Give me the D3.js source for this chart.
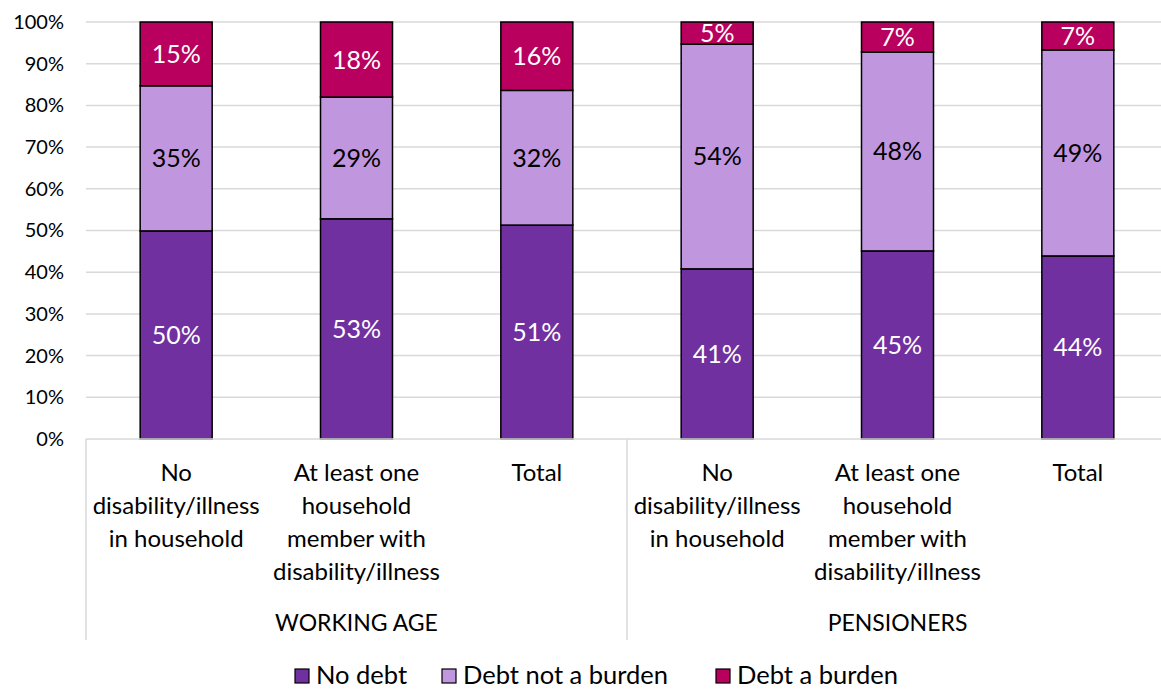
<!DOCTYPE html>
<html>
<head>
<meta charset="utf-8">
<script src="https://cdn.jsdelivr.net/npm/d3@7/dist/d3.min.js"></script>
<style>
  html, body { margin: 0; padding: 0; background: #fff; }
  svg { display: block; font-family: Lato, "Open Sans", sans-serif; }
</style>
</head>
<body>
<svg id="chart" width="1161" height="690"></svg>
<script>
// Household debt burden by disability status, split by age group
const groups = ["WORKING AGE", "PENSIONERS"];
const categories = [
  ["No", "disability/illness", "in household"],
  ["At least one", "household", "member with", "disability/illness"],
  ["Total"],
  ["No", "disability/illness", "in household"],
  ["At least one", "household", "member with", "disability/illness"],
  ["Total"]
];
const seriesNames = ["No debt", "Debt not a burden", "Debt a burden"];
const noDebt          = [0.499, 0.528, 0.513, 0.408, 0.451, 0.439];
const debtNotABurden  = [0.348, 0.292, 0.323, 0.539, 0.477, 0.494];
const debtABurden     = [0.153, 0.180, 0.164, 0.053, 0.072, 0.067];
const yTicks = [0, 0.1, 0.2, 0.3, 0.4, 0.5, 0.6, 0.7, 0.8, 0.9, 1.0];

const colors = ["#7030A0", "#C096DF", "#B9005E"];
const labelColors = ["#ffffff", "#000000", "#ffffff"];

const svg = d3.select("#chart");
const plotL = 86, plotR = 1168, plotT = 22, plotB = 439;

const x = d3.scaleBand().domain(d3.range(categories.length)).range([plotL, plotR]).paddingInner(0.6).paddingOuter(0.3);
const y = d3.scaleLinear().domain([0, 1]).range([plotB, plotT]);

// gridlines
svg.append("g").selectAll("line").data(yTicks.slice(1)).join("line")
  .attr("x1", plotL).attr("x2", plotR)
  .attr("y1", d => y(d)).attr("y2", d => y(d))
  .attr("stroke", "#d9d9d9").attr("stroke-width", 1.5);

// y axis labels
const yAxis = d3.axisLeft(y).tickValues(yTicks).tickFormat(d3.format(".0%")).tickSize(0).tickPadding(22);
const yg = svg.append("g").attr("transform", `translate(${plotL},0)`).call(yAxis);
yg.select(".domain").remove();
yg.selectAll("text").attr("font-size", 20).attr("fill", "#000").attr("font-family", "Lato, sans-serif");

// stacked series
const rows = categories.map((c, i) => ({ i, a: noDebt[i], b: debtNotABurden[i], c: debtABurden[i] }));
const stacked = d3.stack().keys(["a", "b", "c"])(rows);

const bw = 72;
const layer = svg.append("g").selectAll("g").data(stacked).join("g")
  .attr("fill", (d, k) => colors[k]);
layer.selectAll("rect").data(d => d).join("rect")
  .attr("x", d => x(d.data.i) + x.bandwidth() / 2 - bw / 2)
  .attr("width", bw)
  .attr("y", d => y(d[1]))
  .attr("height", d => y(d[0]) - y(d[1]))
  .attr("stroke", "#000").attr("stroke-width", 1.5);

// segment labels
const fmt = v => Math.round(v * 100) + "%";
stacked.forEach((s, k) => {
  svg.append("g").selectAll("text").data(s).join("text")
    .attr("x", d => x(d.data.i) + x.bandwidth() / 2)
    .attr("y", d => (y(d[0]) + y(d[1])) / 2)
    .attr("dy", "0.36em")
    .attr("text-anchor", "middle")
    .attr("font-size", 25)
    .attr("fill", labelColors[k])
    .text(d => fmt(d[1] - d[0]));
});

// category axis frame
const frame = svg.append("g").attr("stroke", "#d9d9d9").attr("stroke-width", 1.5);
frame.append("line").attr("x1", plotL).attr("x2", plotR).attr("y1", plotB).attr("y2", plotB);
const step = x.step();
[0, 3, 6].forEach(k => {
  const xx = plotL + step * k;
  frame.append("line").attr("x1", xx).attr("x2", xx).attr("y1", plotB).attr("y2", 640);
});

// category labels
categories.forEach((lines, i) => {
  const cx = x(i) + x.bandwidth() / 2;
  const t = svg.append("text")
    .attr("text-anchor", "middle")
    .attr("font-size", 24)
    .attr("fill", "#000");
  lines.forEach((ln, j) => {
    t.append("tspan").attr("x", cx).attr("y", 481 + j * 33).text(ln);
  });
});

// group labels
groups.forEach((g, gi) => {
  const cx = plotL + step * (gi * 3 + 1.5);
  svg.append("text").attr("x", cx).attr("y", 631).attr("text-anchor", "middle")
    .attr("font-size", 23).attr("fill", "#000").text(g);
});

// legend
const legendX = [295, 442, 716];
const lg = svg.append("g");
seriesNames.forEach((name, k) => {
  lg.append("rect").attr("x", legendX[k]).attr("y", 669).attr("width", 14).attr("height", 14)
    .attr("fill", colors[k]).attr("stroke", "#000").attr("stroke-width", 1.2);
  lg.append("text").attr("x", legendX[k] + 21).attr("y", 684).attr("font-size", 25.5)
    .attr("fill", "#000").text(name);
});
</script>
</body>
</html>
